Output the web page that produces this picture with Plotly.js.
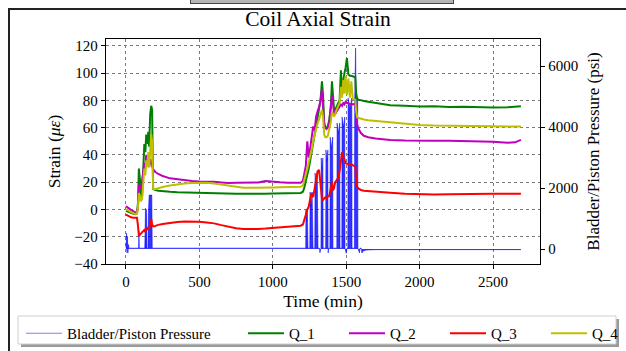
<!DOCTYPE html>
<html><head><meta charset="utf-8">
<script src="https://cdn.plot.ly/plotly-3.0.1.min.js"></script>
<style>
html,body{margin:0;padding:0;background:#fff;}
#wrap{position:relative;width:626px;height:351px;overflow:hidden;background:#fff;}
#chart{position:absolute;left:0;top:0;width:626px;height:351px;}
#frame{position:absolute;left:8px;top:8px;width:700px;height:400px;border-left:2px solid #222;border-top:2px solid #222;pointer-events:none;}
#topbar{position:absolute;left:190px;top:0;width:262px;height:3px;background:#b4b4b4;border:1px solid #444;border-top:none;pointer-events:none;}
</style></head>
<body><div id="wrap"><div id="chart"></div><div id="frame"></div><div id="topbar"></div></div>
<script>
// ---- data ----
const time_min = [0,10,20,35,50,65,75,82,88,95,102,110,118,125,132,138,145,152,158,165,172,178,185,192,200,220,250,300,350,400,450,500,550,600,650,700,750,800,850,900,950,1000,1050,1100,1150,1190,1205,1215,1225,1235,1245,1255,1265,1275,1285,1295,1305,1315,1325,1335,1342,1350,1358,1366,1375,1385,1395,1403,1410,1418,1425,1435,1445,1455,1464,1472,1480,1488,1496,1505,1515,1525,1535,1545,1555,1562,1568,1575,1585,1600,1620,1650,1700,1750,1800,1900,2000,2100,2200,2300,2400,2500,2600,2650,2690];
const q1 = [-1.0,-1.5,-2.0,-2.8,-3.2,-3.5,-3.0,5,30,22,8,10,40,48,42,55,48,57,46,70,76,73,15,14.6,14.3,13.8,13.3,12.9,12.6,12.4,12.2,12.0,11.9,11.8,11.7,11.6,11.5,11.5,11.4,11.5,11.6,11.7,11.8,11.9,12.0,12.1,13,16,21,25,30,36,42,49,55,62,68,75,80,94,84,64,60,60,61,66,75,94,80,72,73,76,78,80,102,88,96,100,104,111,99,98,98,97.5,97.5,97,85,81,80.5,80,79.5,79,78,77,76.5,76,75.5,75.6,75.2,75.4,75,74.8,75,75.2,75.7];
const q2 = [2.4,1.8,0.8,-0.5,-1.5,-2.2,-2.0,2,18,17,15,20,28,34,30,40,35,38,31,37,35,32,29.5,28.5,27.5,26.0,24.5,22.8,22.0,21.3,20.8,20.5,20.6,20.3,19.8,19.4,19.6,19.8,19.5,19.7,20.8,20.2,19.9,19.6,19.3,19.5,21,27,32,50,38,45,55,61,58,68,72,75,80,88,76,62,60,59,60,64,75,84,78,70,70,72,73,75,77,76,78,77,79,78,78,77,77.5,77,77.5,77,66,62,59,56,54,53,52,51.3,51,50.6,50.7,50.4,50.3,50.2,50,49.6,49,49.2,51];
const q3 = [-3.8,-4.5,-5.2,-5.8,-6.0,-6.2,-6.0,-12,-19.5,-18.5,-17.5,-17,-16,-15,-16.5,-14,-15,-13,-14.5,-10,-7,-11,-12.5,-12.4,-12.0,-11.3,-10.6,-9.8,-9.2,-8.9,-8.8,-9.0,-9.5,-10.2,-11.5,-12.8,-13.8,-14.3,-14.5,-14.3,-14.0,-13.6,-13.2,-12.8,-12.4,-11.9,-11,-8,-4,0,2,8,12,9,16,22,28,29,18,8,7,8,9,8,9.5,10,17,20,14,16,20,22,23,28,38,42,39,36,34,33.5,33,33,33,32.5,32,31.5,20,16.5,15.2,14.3,13.8,13.5,13,12.7,12.3,11.6,11.1,11,11.1,11.4,11.7,11.5,11.6,11.5,11.5];
const q4 = [0.2,-0.5,-1.2,-2.0,-2.8,-3.4,-3.2,2,12,10,6,8,24,30,25,36,31,42,31,48,55,50,15,14.7,15.0,15.6,16.4,17.5,18.4,19.0,19.4,19.6,19.5,19.0,18.2,17.2,16.4,16.0,15.9,15.8,16.0,16.1,16.2,16.3,16.4,16.6,17.5,21,26,30,34,38,44,50,55,58,63,66,70,73,68,55,53,53,54,58,64,72,70,68,70,74,76,78,90,82,95,85,98,84,96,82,94,81,81,80.5,72,67.5,67,66.5,66,65.5,65,64.5,64,63,62,61.6,61.5,61.5,61.3,61.2,61,61,60.8];
const p_time = [0,4,7,10,13,17,21,86,88,91,128,130,133,136,139,142,150,152,158,176,179,1224,1226,1231,1235,1240,1252,1254,1261,1268,1274,1286,1288,1296,1303,1308,1318,1321,1325,1328,1330,1336,1341,1343,1360,1362,1369,1375,1377,1381,1389,1391,1399,1408,1410,1436,1438,1447,1456,1458,1470,1472,1481,1490,1492,1500,1505,1511,1513,1525,1538,1540,1556,1558,1564,1568,1578,1580,1590,1594,1602,1607,1615,1640,1700,2690];
const pressure = [30,520,-120,420,-130,150,30,30,600,30,30,1200,1340,30,1300,30,30,1100,1770,1770,30,30,1280,900,1280,30,30,1870,1400,1870,30,30,2490,2100,2490,30,30,-120,30,30,2985,2600,2985,30,30,3250,2900,3250,-130,30,30,3670,3300,3670,30,30,4130,3800,4130,30,30,4330,4000,4330,30,-140,30,30,4950,4600,4950,30,30,4900,6590,4900,4900,30,-130,30,30,-130,-60,-30,-20,-20];
const series_names = ['Bladder/Piston Pressure','Q_1','Q_2','Q_3','Q_4'];
const x_ticks = [0,500,1000,1500,2000,2500];
const strain_ticks = [-40,-20,0,20,40,60,80,100,120];
const pressure_ticks = [0,2000,4000,6000];

// ---- geometry helpers (pixel -> paper) ----
const W = 626, H = 351, L = 106, R = 540, T = 39, B = 264;
const px = v => (v - L) / (R - L);
const py = v => (B - v) / (B - T);
const FONT = 'Liberation Serif, Times New Roman, serif';

const traces = [
  {x: p_time, y: pressure, yaxis: 'y', type: 'scatter', mode: 'lines', fill: 'tozeroy',
   fillcolor: 'rgba(0,0,255,0.8)', line: {width: 0, color: 'rgba(0,0,255,0)'}, showlegend: false, hoverinfo: 'skip'},
  {x: p_time, y: pressure, yaxis: 'y', type: 'scatter', mode: 'lines', name: series_names[0],
   line: {color: 'rgba(0,0,255,0.5)', width: 1}, legend: 'legend'},
  {x: time_min, y: q1, yaxis: 'y2', type: 'scatter', mode: 'lines', name: series_names[1], line: {color: '#008000', width: 2}, legend: 'legend2'},
  {x: time_min, y: q2, yaxis: 'y2', type: 'scatter', mode: 'lines', name: series_names[2], line: {color: '#bf00bf', width: 2}, legend: 'legend2'},
  {x: time_min, y: q3, yaxis: 'y2', type: 'scatter', mode: 'lines', name: series_names[3], line: {color: '#ff0000', width: 2}, legend: 'legend2'},
  {x: time_min, y: q4, yaxis: 'y2', type: 'scatter', mode: 'lines', name: series_names[4], line: {color: '#bfbf00', width: 2}, legend: 'legend2'}
];

const axisCommon = {
  ticks: 'outside', ticklen: 4, tickwidth: 1, tickcolor: '#000', automargin: false,
  showline: true, linecolor: '#000', linewidth: 1.3, zeroline: false,
  tickfont: {family: FONT, size: 15, color: '#000'}
};

const layout = {
  width: W, height: H,
  margin: {l: L, r: W - R, t: T, b: H - B, pad: 0, autoexpand: false},
  paper_bgcolor: 'rgba(0,0,0,0)', plot_bgcolor: '#fff',
  font: {family: FONT, color: '#000'},
  title: {text: 'Coil Axial Strain', xref: 'container', x: 318 / W, yref: 'container', y: 1 - 18 / H,
          xanchor: 'center', yanchor: 'middle', font: {family: FONT, size: 21.5, color: '#000'}},
  xaxis: Object.assign({}, axisCommon, {
    range: [-136, 2820], tickvals: x_ticks, mirror: true,
    showgrid: true, gridcolor: '#7a7a7a', griddash: 'dot', gridwidth: 1,
    title: {text: 'Time (min)', font: {family: FONT, size: 17.5, color: '#000'}, standoff: 5}
  }),
  yaxis: Object.assign({}, axisCommon, {
    side: 'right', range: [-490, 6885], tickvals: pressure_ticks, showgrid: false,
    title: {text: 'Bladder/Piston Pressure (psi)', font: {family: FONT, size: 17, color: '#000'}, standoff: 9}
  }),
  yaxis2: Object.assign({}, axisCommon, {
    overlaying: 'y', side: 'left', range: [-40, 125], tickvals: strain_ticks,
    showgrid: true, gridcolor: '#7a7a7a', griddash: 'dot', gridwidth: 1,
    title: {text: 'Strain (<i>με</i>)', font: {family: FONT, size: 17.5, color: '#000'}, standoff: 9}
  }),
  legend: {orientation: 'h', x: px(21), y: py(317), xanchor: 'left', yanchor: 'top', itemwidth: 36,
           bgcolor: 'rgba(0,0,0,0)', borderwidth: 0, font: {family: FONT, size: 15, color: '#000'}},
  legend2: {orientation: 'h', x: px(647), y: py(317), xanchor: 'right', yanchor: 'top', entrywidth: 50, itemwidth: 36,
            bgcolor: 'rgba(0,0,0,0)', borderwidth: 0, font: {family: FONT, size: 15, color: '#000'}},
  shapes: [
    {type: 'rect', xref: 'paper', yref: 'paper', x0: px(21), x1: px(619), y0: py(347), y1: py(319),
     fillcolor: '#9a9a9a', line: {width: 0}, layer: 'above'},
    {type: 'rect', xref: 'paper', yref: 'paper', x0: px(18), x1: px(616), y0: py(344), y1: py(316),
     fillcolor: '#ffffff', line: {width: 1, color: '#cfcfcf'}, layer: 'above'}
  ],
  showlegend: true
};

Plotly.newPlot('chart', traces, layout, {staticPlot: true, displayModeBar: false});
</script></body></html>
